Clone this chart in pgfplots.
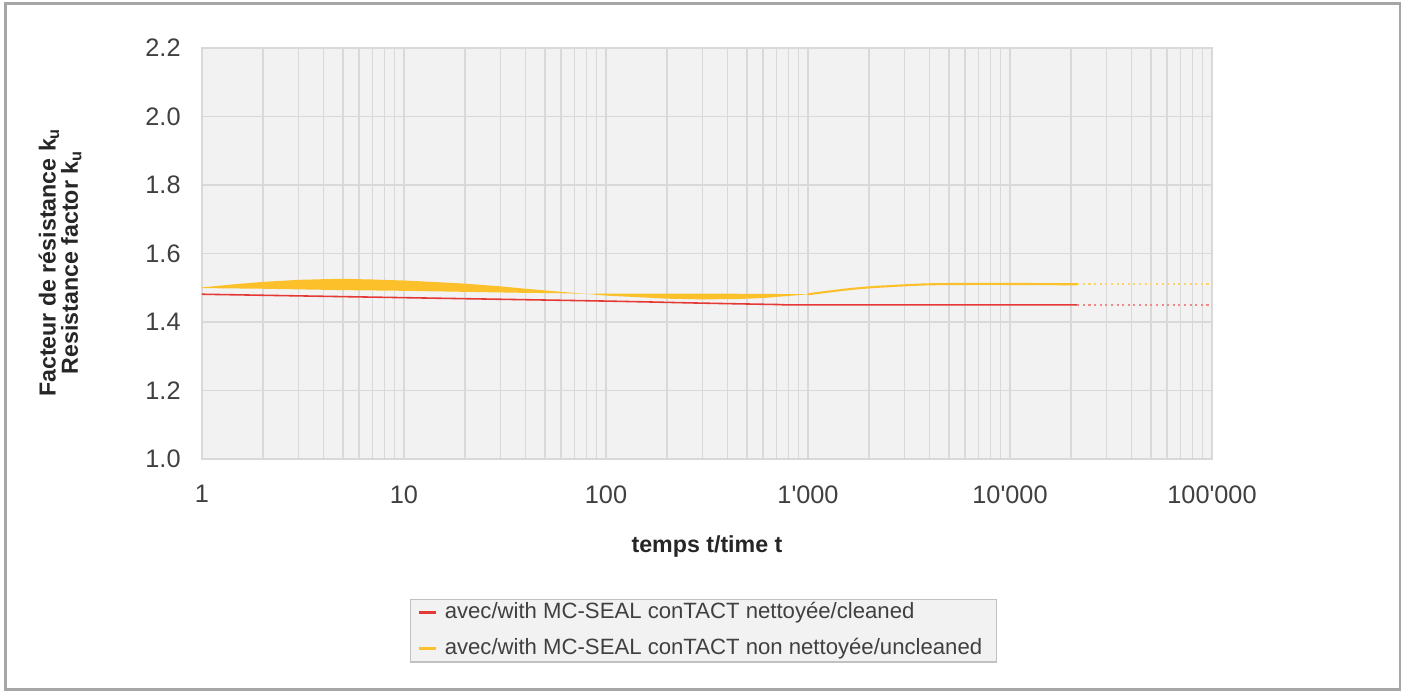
\documentclass[border=0pt]{standalone}
\usepackage{pgfplots}
\pgfplotsset{compat=1.18}
\usepackage{fontspec}
\setmainfont{Liberation Sans}[Ligatures=TeXOff]
\definecolor{plotbg}{HTML}{F2F2F2}
\definecolor{gridc}{HTML}{D9D9D9}
\definecolor{redl}{HTML}{E53935}
\definecolor{yel}{HTML}{FCC12A}
\definecolor{txt}{HTML}{404040}
\definecolor{frame}{HTML}{A6A6A6}
\begin{document}
\begin{tikzpicture}[x=1cm,y=1cm]
\useasboundingbox (0,0) rectangle (14.05,6.94);
\draw[frame, line width=0.025cm] (0.055,0.045) rectangle (14.0,6.905);
\begin{axis}[
  at={(2.02cm,2.35cm)}, anchor=south west,
  scale only axis, width=10.10cm, height=4.11cm,
  xmode=log, xmin=1, xmax=100000, ymin=1, ymax=2.2,
  axis background/.style={fill=plotbg},
  axis line style={gridc},
  xtick={1,10,100,1000,10000,100000},
  xticklabels={1,10,100,1'000,10'000,100'000},
  minor xtick={2,3,4,5,6,7,8,9,20,30,40,50,60,70,80,90,200,300,400,500,600,700,800,900,2000,3000,4000,5000,6000,7000,8000,9000,20000,30000,40000,50000,60000,70000,80000,90000},
  ytick={1.0,1.2,...,2.21},
  yticklabel style={/pgf/number format/fixed,/pgf/number format/fixed zerofill,/pgf/number format/precision=1, xshift=-0.09cm},
  xticklabel style={yshift=-0.14cm},
  /pgf/number format/assume math mode=true,
  tick label style={font=\fontsize{7.2pt}{8pt}\selectfont, text=txt},
  major tick length=0pt, minor tick length=0pt,
  grid=both,
  major grid style={gridc, line width=0.4pt},
  minor grid style={gridc, line width=0.4pt},
  xlabel={temps t/time t},
  xlabel style={at={(axis description cs:0.5,-0.214)}, anchor=center, font=\fontsize{6.6pt}{7.6pt}\selectfont\bfseries, text=black!85},
  ylabel={Facteur de résistance k\textsubscript{u}\\[-0.5pt]Resistance factor k\textsubscript{u}},
  ylabel style={at={(axis description cs:-0.1406,0.479)}, anchor=center, align=center, font=\fontsize{6.6pt}{5.8pt}\selectfont\bfseries, text=black!85},
  legend style={at={(0.4965,-0.3406)}, anchor=north, draw=frame!70, fill=plotbg, font=\fontsize{6.3pt}{7pt}\selectfont, text=txt, cells={anchor=west}, row sep=3pt, inner xsep=2pt, inner ysep=0pt, nodes={inner ysep=0.6pt, inner xsep=2pt}},
  legend image code/.code={\draw[#1, line width=0.03cm] (0cm,0cm) -- (0.17cm,0cm);},
]
% red series
\addplot[redl, line width=0.45pt, smooth] coordinates {(1,1.481) (10,1.471) (100,1.461) (300,1.455) (700,1.451) (1000,1.450) (21500,1.450)};
\addlegendentry{avec/with MC-SEAL conTACT nettoyée/cleaned}
\addplot[redl!60, line width=0.6pt, densely dotted, forget plot] coordinates {(21500,1.450) (100000,1.450)};
% yellow band (closed outline: upper edge forward, lower edge back)
\addplot[fill=yel, draw=none, forget plot] coordinates {
 (1,1.501) (1.5,1.511) (2,1.517) (3,1.523) (4,1.525) (5,1.526) (7,1.524) (10,1.521) (15,1.516) (20,1.512) (30,1.504) (40,1.497) (60,1.488) (80,1.482)
 (100,1.483) (150,1.483) (300,1.483) (600,1.482) (1000,1.481)
 (800,1.476) (600,1.470) (450,1.467) (300,1.466) (200,1.468) (150,1.472) (100,1.477) (80,1.482)
 (60,1.484) (40,1.485) (20,1.488) (10,1.491) (5,1.493) (2,1.497) (1,1.499)};
% yellow line
\addplot[yel, line width=0.6pt, smooth] coordinates {(1000,1.481) (1500,1.494) (2000,1.501) (3000,1.507) (4000,1.510) (6000,1.511) (10000,1.511) (21500,1.510)};
\addlegendentry{avec/with MC-SEAL conTACT non nettoyée/uncleaned}
\addplot[yel!70, line width=0.6pt, densely dotted, forget plot] coordinates {(21500,1.510) (100000,1.510)};
\end{axis}
\end{tikzpicture}
\end{document}
